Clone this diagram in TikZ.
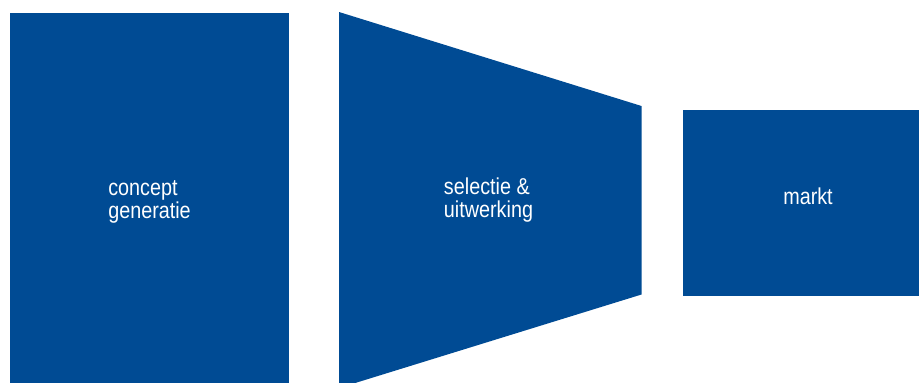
\documentclass[tikz,border=0pt]{standalone}
\usepackage{fontspec}
\setmainfont{Liberation Sans}[FakeStretch=0.86]
\definecolor{boxblue}{RGB}{0,75,148}
\tikzset{
  blk/.style={fill=boxblue, draw=none},
  lbl/.style={text=white, align=left, inner sep=0pt,
    font=\fontsize{23}{23}\selectfont}
}
\begin{document}
\begin{tikzpicture}[x=1pt,y=-1pt]
\useasboundingbox (0,0) rectangle (919,383);
\fill[blk] (10,13) rectangle (289,383);
\fill[blk] (339,12) -- (641.5,106) -- (641.5,294.5) -- (339,388) -- cycle;
\fill[blk] (683,110) rectangle (919,296);
\node[lbl] (concept) at (149.5,201.5) {concept\\generatie};
\node[lbl] (selectie) at (488.5,200.5) {selectie \&\\uitwerking};
\node[lbl] (markt) at (808,196) {markt};
\end{tikzpicture}
\end{document}
